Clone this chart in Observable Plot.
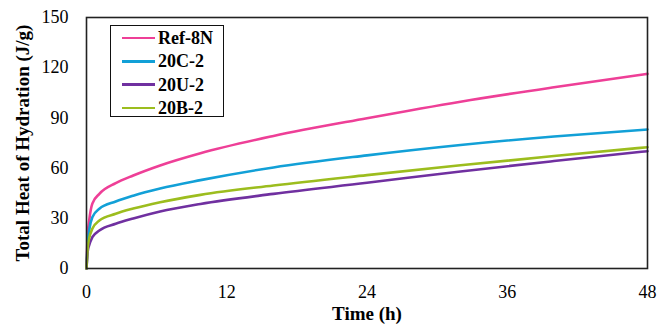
<!DOCTYPE html>
<html>
<head>
<meta charset="utf-8">
<script src="https://cdn.jsdelivr.net/npm/d3@7"></script>
<script src="https://cdn.jsdelivr.net/npm/@observablehq/plot@0.6"></script>
<style>
  html, body { margin: 0; padding: 0; background: #fff; }
  #wrap { position: relative; width: 659px; height: 327px; font-family: "Liberation Serif", "Times New Roman", serif; }
  #legend { position: absolute; left: 110px; top: 25px; width: 114px; height: 92px; border: 1.5px solid #111; background: #fff; box-sizing: border-box; }
  .item { position: absolute; left: 11px; height: 22px; display: flex; align-items: center; font-weight: bold; font-size: 18px; line-height: 22px; }
  .sw { width: 33px; height: 2.6px; margin-right: 3px; }
</style>
</head>
<body>
<div id="wrap"><div id="legend"></div></div>
<script>
const time = [0, 0.1, 0.23, 0.5, 1.1, 2.5, 4, 6.3, 9.75, 16, 24, 32, 40, 48];
const series = ["Ref-8N", "20C-2", "20U-2", "20B-2"];
const colors = ["#EE3F97", "#12A0D7", "#7030A0", "#9CBD1E"];
const ref8N = [0, 20, 28.7, 38.8, 44.6, 51, 55.6, 61.6, 68.9, 79.2, 89.8, 99.7, 108.3, 116.3];
const c20C2 = [0, 15, 23, 30.7, 35.7, 40, 43.5, 47.8, 52.8, 60.4, 67.6, 73.8, 78.9, 83.1];
const u20U2 = [0, 10, 14, 18.7, 22.7, 26.7, 29.9, 34.1, 38.6, 44.6, 51.2, 58, 64.2, 70.1];
const b20B2 = [0, 12, 18, 23.7, 28.7, 32.7, 35.8, 39.6, 44, 49.6, 55.8, 61.7, 67.2, 72.5];
const xTicks = [0, 12, 24, 36, 48];
const yTicks = [0, 30, 60, 90, 120, 150];

const values = [ref8N, c20C2, u20U2, b20B2];
const data = [];
series.forEach((s, i) => time.forEach((t, j) => data.push({series: s, t, v: values[i][j]})));

const serif = '"Liberation Serif", "Times New Roman", serif';
const chart = Plot.plot({
  width: 659, height: 327,
  marginLeft: 86, marginRight: 12, marginTop: 17, marginBottom: 59,
  style: {fontSize: "18px", fontFamily: serif, color: "#000", background: "#fff", overflow: "visible"},
  x: {domain: [0, 48], axis: null, label: null},
  y: {domain: [0, 150], axis: null, label: null},
  color: {domain: series, range: colors},
  marks: [
    Plot.line(data, {x: "t", y: "v", z: "series", stroke: "series", strokeWidth: 2.6, curve: "monotone-x"}),
    Plot.frame({stroke: "#222", strokeWidth: 1.6}),
    Plot.text(xTicks, {x: d => d, frameAnchor: "bottom", lineAnchor: "middle", dy: 24, fontSize: 18, fontFamily: serif}),
    Plot.text(yTicks, {y: d => d, frameAnchor: "left", textAnchor: "end", lineAnchor: "middle", dx: -18, fontSize: 18, fontFamily: serif}),
    Plot.text(["Time (h)"], {frameAnchor: "bottom", lineAnchor: "middle", dy: 45, fontWeight: "bold", fontSize: 19, fontFamily: serif}),
    Plot.text(["Total Heat of Hydration (J/g)"], {frameAnchor: "left", textAnchor: "middle", lineAnchor: "middle", dx: -64, rotate: -90, fontWeight: "bold", fontSize: 19, fontFamily: serif})
  ]
});
document.getElementById("wrap").prepend(chart);

const legend = document.getElementById("legend");
series.forEach((s, i) => {
  const it = document.createElement("div");
  it.className = "item";
  it.style.top = (1 + i * 23.3) + "px";
  const sw = document.createElement("div");
  sw.className = "sw";
  sw.style.background = colors[i];
  it.appendChild(sw);
  it.appendChild(document.createTextNode(s));
  legend.appendChild(it);
});
</script>
</body>
</html>
